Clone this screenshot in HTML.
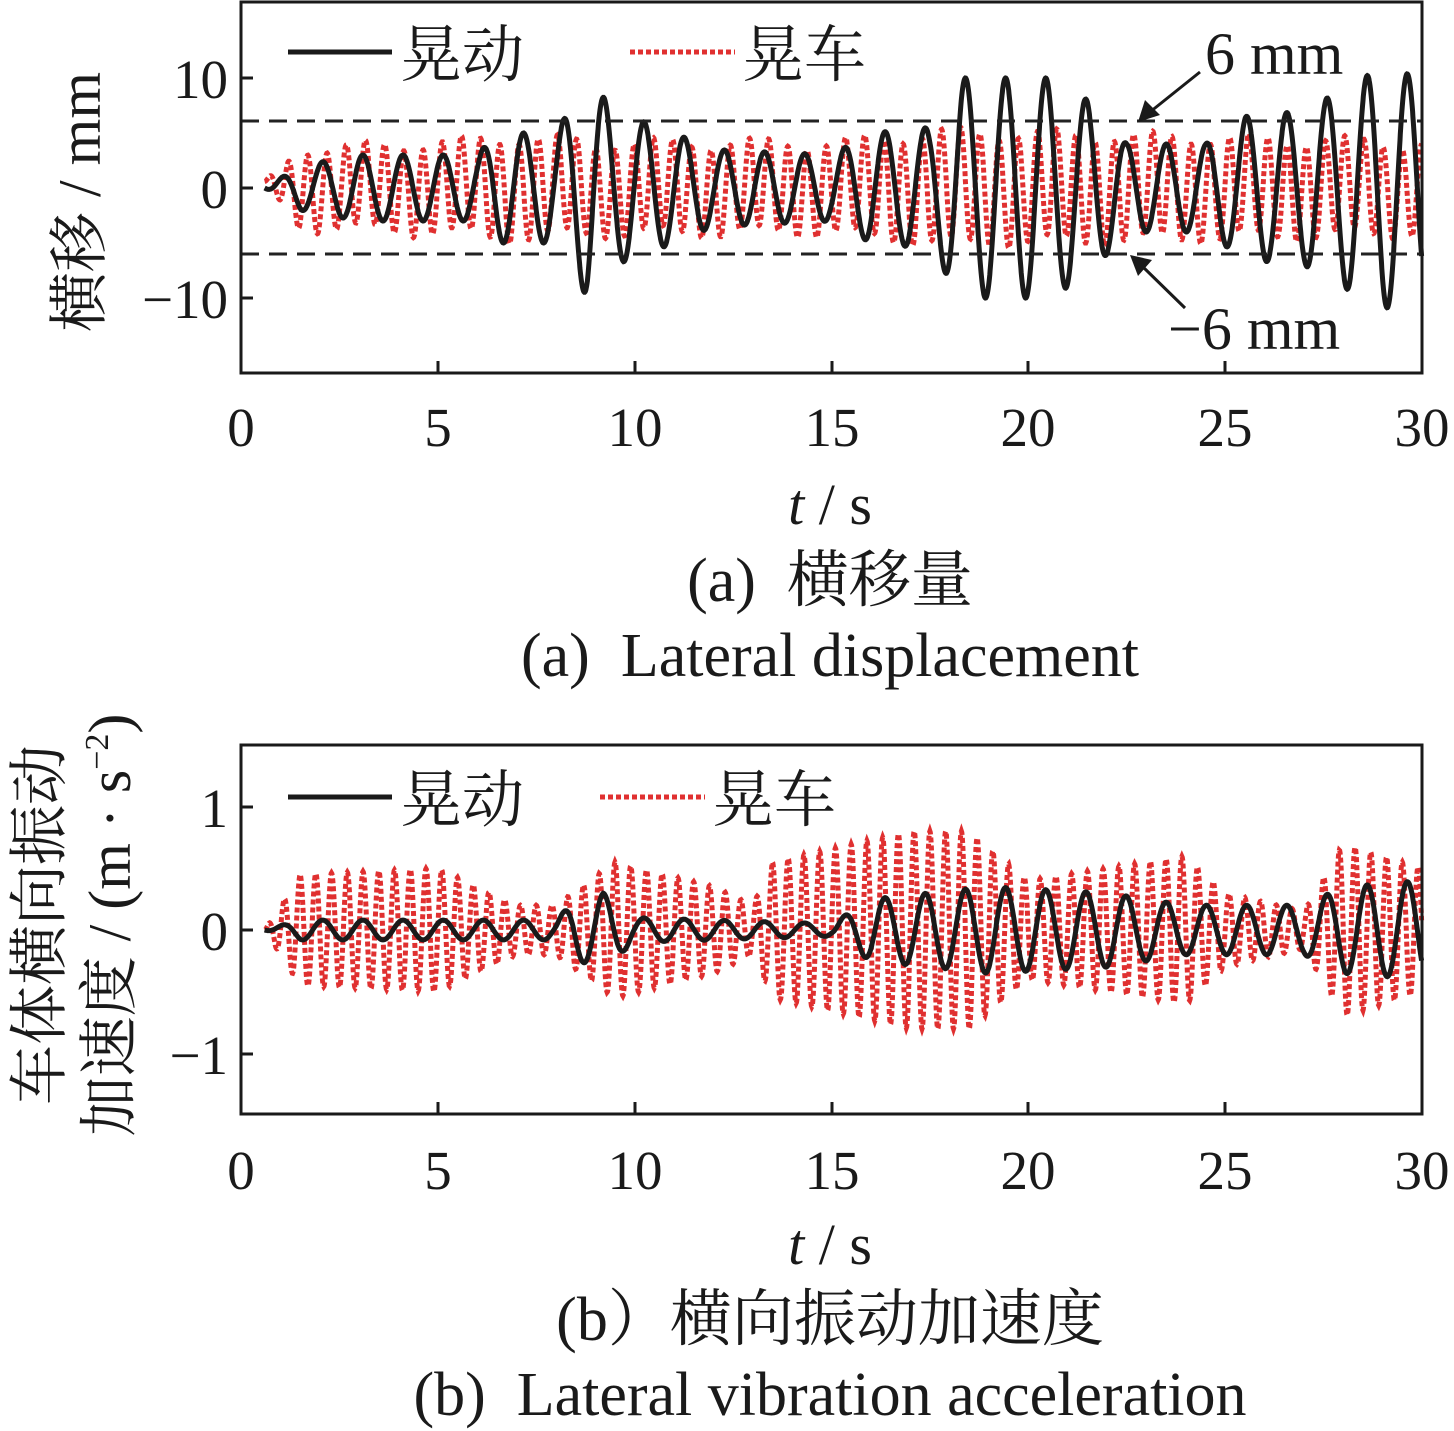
<!DOCTYPE html>
<html><head><meta charset="utf-8"><style>
html,body{margin:0;padding:0;background:#fff;}
svg{display:block;}
text{font-family:"Liberation Serif","Noto Serif CJK SC",serif;fill:#1a1a1a;}
</style></head><body>
<svg id="s" width="1454" height="1431" viewBox="0 0 1454 1431" xmlns="http://www.w3.org/2000/svg">
<g id="g1"></g>
<line x1="241" y1="121" x2="1422" y2="121" stroke="#222" stroke-width="3" stroke-dasharray="18,10"/>
<line x1="241" y1="254" x2="1422" y2="254" stroke="#222" stroke-width="3" stroke-dasharray="18,10"/>
<rect x="241" y="2" width="1181" height="371" fill="none" stroke="#1a1a1a" stroke-width="3"/>
<g stroke="#1a1a1a" stroke-width="3">
<line x1="241" y1="78" x2="253" y2="78"/><line x1="241" y1="188" x2="253" y2="188"/><line x1="241" y1="298" x2="253" y2="298"/>
<line x1="438" y1="373" x2="438" y2="361"/><line x1="635" y1="373" x2="635" y2="361"/><line x1="832" y1="373" x2="832" y2="361"/><line x1="1028" y1="373" x2="1028" y2="361"/><line x1="1225" y1="373" x2="1225" y2="361"/>
</g>
<g font-size="55" text-anchor="end">
<text x="228" y="98">10</text><text x="228" y="208">0</text><text x="228" y="318">−10</text>
</g>
<g font-size="55" text-anchor="middle">
<text x="241" y="446">0</text><text x="438" y="446">5</text><text x="635" y="446">10</text><text x="832" y="446">15</text><text x="1028" y="446">20</text><text x="1225" y="446">25</text><text x="1422" y="446">30</text>
<text x="830" y="524" font-size="58"><tspan font-style="italic">t</tspan> / s</text>
<text x="830" y="601" font-size="62" xml:space="preserve">(a)  横移量</text>
<text x="830" y="676" font-size="62" xml:space="preserve">(a)  Lateral displacement</text>
</g>
<text transform="translate(100,202) rotate(-90)" font-size="60" text-anchor="middle">横移 / mm</text>
<line x1="288" y1="52" x2="392" y2="52" stroke="#1a1a1a" stroke-width="5"/>
<text x="400" y="76" font-size="62">晃动</text>
<line x1="630" y1="52" x2="735" y2="52" stroke="#e03030" stroke-width="5" stroke-dasharray="5,3"/>
<text x="742" y="76" font-size="62">晃车</text>
<text x="1205" y="74" font-size="60">6 mm</text>
<text x="1168" y="349" font-size="60">−6 mm</text>
<line x1="1200" y1="72" x2="1150" y2="112" stroke="#1a1a1a" stroke-width="3"/>
<polygon points="1138,122 1145,100 1160,115" fill="#1a1a1a"/>
<line x1="1185" y1="308" x2="1142" y2="266" stroke="#1a1a1a" stroke-width="3"/>
<polygon points="1130,255 1152,260 1138,276" fill="#1a1a1a"/>

<g id="g2"></g>
<rect x="241" y="745" width="1181" height="369" fill="none" stroke="#1a1a1a" stroke-width="3"/>
<g stroke="#1a1a1a" stroke-width="3">
<line x1="241" y1="807" x2="253" y2="807"/><line x1="241" y1="930" x2="253" y2="930"/><line x1="241" y1="1054" x2="253" y2="1054"/>
<line x1="438" y1="1114" x2="438" y2="1102"/><line x1="635" y1="1114" x2="635" y2="1102"/><line x1="832" y1="1114" x2="832" y2="1102"/><line x1="1028" y1="1114" x2="1028" y2="1102"/><line x1="1225" y1="1114" x2="1225" y2="1102"/>
</g>
<g font-size="55" text-anchor="end">
<text x="228" y="827">1</text><text x="228" y="950">0</text><text x="228" y="1074">−1</text>
</g>
<g font-size="55" text-anchor="middle">
<text x="241" y="1189">0</text><text x="438" y="1189">5</text><text x="635" y="1189">10</text><text x="832" y="1189">15</text><text x="1028" y="1189">20</text><text x="1225" y="1189">25</text><text x="1422" y="1189">30</text>
<text x="830" y="1264" font-size="58"><tspan font-style="italic">t</tspan> / s</text>
<text x="830" y="1340" font-size="62">(b）横向振动加速度</text>
<text x="830" y="1415" font-size="62" xml:space="preserve">(b)  Lateral vibration acceleration</text>
</g>
<text transform="translate(60,925) rotate(-90)" font-size="60" text-anchor="middle">车体横向振动</text>
<text transform="translate(130,925) rotate(-90)" font-size="60" text-anchor="middle">加速度 / (m · s<tspan font-size="34" dy="-22">−2</tspan><tspan dy="22">)</tspan></text>
<line x1="288" y1="797" x2="392" y2="797" stroke="#1a1a1a" stroke-width="5"/>
<text x="400" y="821" font-size="62">晃动</text>
<line x1="600" y1="797" x2="705" y2="797" stroke="#e03030" stroke-width="5" stroke-dasharray="5,3"/>
<text x="712" y="821" font-size="62">晃车</text>
</svg>
<script>
function interp(pts,t){for(var i=0;i<pts.length-1;i++){if(t>=pts[i][0]&&t<=pts[i+1][0]){var a=(t-pts[i][0])/(pts[i+1][0]-pts[i][0]);return pts[i][1]+a*(pts[i+1][1]-pts[i][1]);}}return pts[pts.length-1][1];}
function path(f,x0,y0,sx,sy){var d="";for(var t=0.6;t<=30;t+=0.01){var x=x0+t*sx,y=y0-f(t)*sy;d+=(d?"L":"M")+x.toFixed(1)+","+y.toFixed(1);}return d;}
function add(g,d,col,w,dash){var p=document.createElementNS("http://www.w3.org/2000/svg","path");p.setAttribute("d",d);p.setAttribute("fill","none");p.setAttribute("stroke",col);p.setAttribute("stroke-width",w);if(dash)p.setAttribute("stroke-dasharray",dash);document.getElementById(g).appendChild(p);}
var sx=1181/30;
var envB=[[0.6,0],[1.5,2],[3,3],[6,3],[6.5,5],[8,5],[8.8,10],[9.5,7],[11,5],[12,3.5],[15,3],[16,5],[17.5,5.5],[18.3,10],[20.5,10],[21.5,8],[22.5,4],[24.5,4],[25.5,6.5],[27,7],[28,9],[29,11],[30,10]];
var fb=function(t){return interp(envB,t)*Math.sin(2*Math.PI*0.98*(t-0.8));};
var envR=[[0.6,0],[1.5,3.5],[5,4],[7,4.5],[9,4],[15,4],[18,5],[30,4]];
var fr=function(t){return interp(envR,t)*Math.sin(2*Math.PI*2.05*(t-0.6))+0.6*Math.sin(2*Math.PI*0.4*t);};
add("g1",path(fr,241,188,sx,11),"#e03030",5,"5,3");
add("g1",path(fb,241,188,sx,11),"#1a1a1a",5);
var envB2=[[0.6,0],[1.5,0.08],[8,0.08],[8.5,0.25],[9.2,0.3],[10,0.1],[15,0.05],[16,0.25],[19,0.35],[22,0.3],[24,0.2],[27,0.2],[28,0.35],[30,0.4]];
var fb2=function(t){return interp(envB2,t)*Math.sin(2*Math.PI*0.98*(t-0.8));};
var envR2=[[0.6,0],[1.5,0.45],[5,0.5],[7,0.2],[8,0.2],[9.5,0.55],[12,0.35],[13,0.2],[13.5,0.55],[17,0.8],[18.5,0.8],[20,0.4],[22,0.5],[24,0.6],[25,0.3],[27,0.15],[28,0.7],[29,0.6],[30,0.5]];
var fr2=function(t){return interp(envR2,t)*Math.sin(2*Math.PI*2.5*(t-0.6));};
add("g2",path(fr2,241,930,sx,123.5),"#e03030",5,"5,3");
add("g2",path(fb2,241,930,sx,123.5),"#1a1a1a",5);
</script>
</body></html>
